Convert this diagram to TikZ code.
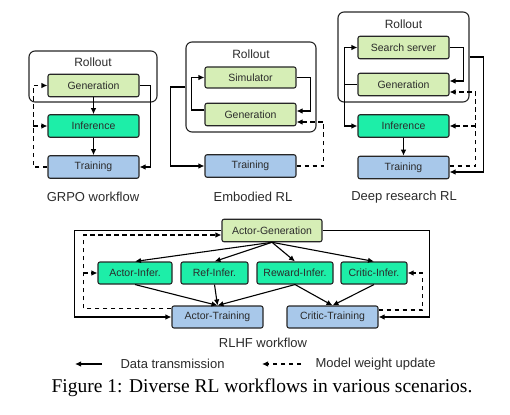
\documentclass[tikz,border=0pt]{standalone}
\usepackage{fontspec}
\setmainfont{Liberation Sans}
\newfontfamily\capfont{Liberation Serif}
\usepackage{xcolor}
\usepackage{tikz}
\usetikzlibrary{arrows.meta,calc}
\definecolor{GenGreen}{HTML}{D6EEB6}
\definecolor{InferGreen}{HTML}{1DEEA8}
\definecolor{TrainBlue}{HTML}{A8C8EA}
\definecolor{BoxLine}{HTML}{262626}
\definecolor{TextDark}{HTML}{2B2B2B}

\begin{document}
\begin{tikzpicture}[x=1pt,y=-1pt,
    box/.style={draw=BoxLine, line width=1.1pt, rounded corners=2pt,
      minimum width=91pt, minimum height=22.5pt, inner sep=0pt,
      font=\fontsize{10.5}{12}\selectfont, text=TextDark},
    genbox/.style={box, fill=GenGreen},
    infbox/.style={box, fill=InferGreen},
    trnbox/.style={box, fill=TrainBlue},
    rollbox/.style={draw=BoxLine, line width=1.1pt, rounded corners=6pt, inner sep=0pt},
    lbl/.style={font=\fontsize{13}{15}\selectfont, text=TextDark},
    flow/.style={draw=black, line width=1.1pt, -{Latex[length=6pt,width=5.5pt]}},
    wupd/.style={flow, dash pattern=on 4.5pt off 3.5pt}]
  \useasboundingbox (0,0) rectangle (510,414);

  % GRPO workflow
  \node[rollbox, minimum width=128pt, minimum height=51pt] (rol1) at (93,76.5) {};
  \node[font=\fontsize{12}{14}\selectfont, text=TextDark] (rt1) at (93,62) {Rollout};
  \node[genbox] (gen1) at (93.5,85.5) {Generation};
  \node[infbox] (inf1) at (93.5,126) {Inference};
  \node[trnbox] (trn1) at (93.5,167) {Training};
  \node[lbl] (cap1) at (93,197) {GRPO workflow};
  \draw[flow] (gen1) -- (inf1);
  \draw[flow] (inf1) -- (trn1);
  \draw[flow] (gen1.east) -- ++(11,0) |- (trn1.east);
  \draw[wupd] (trn1.west) -- ++(-14,0) coordinate (d1) |- (gen1.west);
  \draw[wupd] (inf1.west -| d1) -- (inf1.west);

  % Embodied RL
  \node[rollbox, minimum width=130pt, minimum height=90pt] (rol2) at (251,87) {};
  \node[font=\fontsize{12}{14}\selectfont, text=TextDark] (rt2) at (251,54) {Rollout};
  \node[genbox, minimum height=21pt] (sim2) at (250.5,77.5) {Simulator};
  \node[genbox] (gen2) at (250.5,114.5) {Generation};
  \node[trnbox] (trn2) at (250.5,166) {Training};
  \node[lbl] (cap2) at (253,197) {Embodied RL};
  \draw[flow] (sim2.east) -- ++(14,0) |- ([yshift=3.5pt]gen2.east);
  \draw[flow] ([yshift=4.5pt]gen2.west) -- ++(-13,0) |- (sim2.west);
  \draw[flow] (rol2.west) -- ++(-15,0) |- (trn2.west);
  \draw[wupd] (trn2.east) -- ++(27,0) |- ([yshift=-7.5pt]gen2.east);

  % Deep research RL
  \node[rollbox, minimum width=131pt, minimum height=90pt] (rol3) at (403.5,57) {};
  \node[font=\fontsize{12}{14}\selectfont, text=TextDark] (rt3) at (403.5,24) {Rollout};
  \node[genbox] (srch3) at (403.5,47.5) {Search server};
  \node[genbox] (gen3) at (403.5,84.5) {Generation};
  \node[infbox] (inf3) at (403.5,126) {Inference};
  \node[trnbox] (trn3) at (403.5,167.5) {Training};
  \node[lbl] (cap3) at (404,197) {Deep research RL};
  \draw[flow] (srch3.east) -- ++(14,0) |- ([yshift=3.5pt]gen3.east);
  \draw[flow] (gen3.west) -- ++(-13,0) coordinate (b3) |- (srch3.west);
  \draw[flow] (b3) |- (inf3.west);
  \draw[flow] (inf3) -- (trn3);
  \draw[flow] (rol3.east) -- ++(14,0) |- ([yshift=-4.5pt]trn3.east);
  \draw[wupd] ([yshift=1.5pt]trn3.east) -- ++(26,0) coordinate (d3) |- ([yshift=-7.5pt]gen3.east);
  \draw[wupd] (inf3.east -| d3) -- (inf3.east);

  % RLHF workflow
  \node[genbox, minimum width=100pt] (agen) at (272,230.5) {Actor-Generation};
  \node[infbox, minimum width=74pt, minimum height=22pt] (ainf) at (135,273) {Actor-Infer.};
  \node[infbox, minimum width=67pt, minimum height=22pt] (rinf) at (214.5,273) {Ref-Infer.};
  \node[infbox, minimum width=76pt, minimum height=22pt] (rwinf) at (295,273) {Reward-Infer.};
  \node[infbox, minimum width=66pt, minimum height=22pt] (cinf) at (374,273) {Critic-Infer.};
  \node[trnbox, minimum height=22pt] (atrn) at (217.5,317) {Actor-Training};
  \node[trnbox, minimum height=22pt] (ctrn) at (332.5,317) {Critic-Training};
  \node[lbl] (cap4) at (263,343) {RLHF workflow};
  \foreach \dst in {ainf,rinf,rwinf,cinf}
    \draw[flow] (agen.south) -- (\dst.north);
  \foreach \src/\dst in {ainf/atrn,rinf/atrn,rwinf/atrn,rwinf/ctrn,cinf/ctrn}
    \draw[flow] (\src.south) -- (\dst.north);
  \draw[flow] (agen.west) -- ++(-147,0) |- (atrn.west);
  \draw[wupd] ([yshift=-3pt]atrn.north west) -- ++(-88,0) coordinate (d4) |- ([yshift=-4.5pt]agen.west);
  \draw[wupd] (ainf.west -| d4) -- (ainf.west);
  \draw[flow] (agen.east) -- ++(107,0) |- (ctrn.east);
  \draw[wupd] ([yshift=7pt]ctrn.east) -- ++(44,0) |- (cinf.east);

  % legend
  \node[lbl, anchor=west] (lg1) at (117,364) {Data transmission};
  \node[lbl, anchor=west] (lg2) at (312,364) {Model weight update};
  \coordinate (la1) at (102,364);
  \coordinate (lb1) at (75,364);
  \coordinate (la2) at (301,364);
  \coordinate (lb2) at (262,364);
  \draw[flow] (la1) -- (lb1);
  \draw[wupd] (la2) -- (lb2);

  \node[font=\capfont\fontsize{19.5}{22}\selectfont, text=black] (fig) at (262,388)
    {Figure 1: Diverse RL workflows in various scenarios.};
\end{tikzpicture}
\end{document}
